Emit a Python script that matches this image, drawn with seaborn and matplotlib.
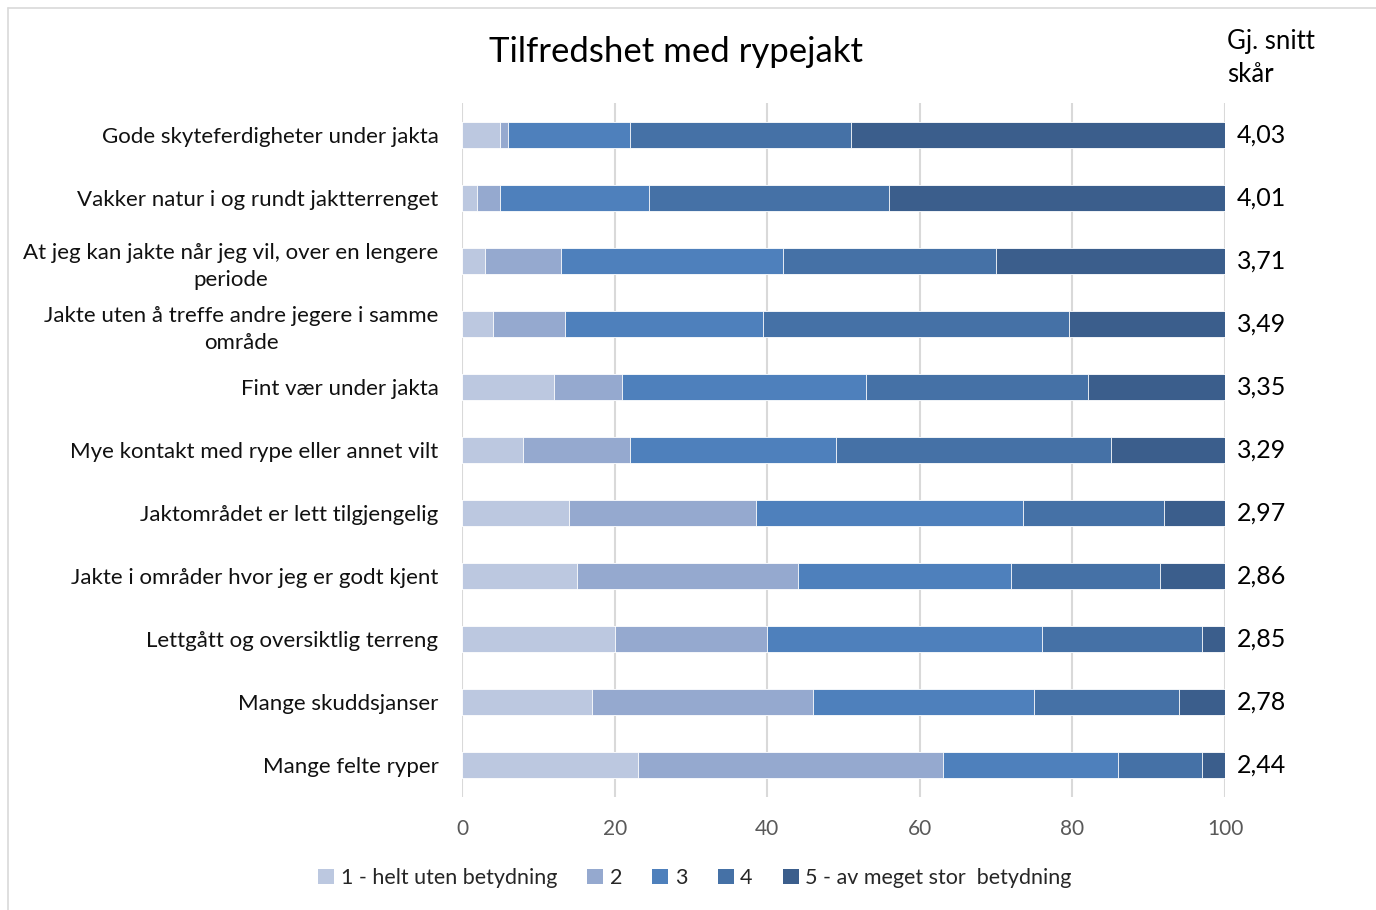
import matplotlib
matplotlib.use("Agg")
import matplotlib.pyplot as plt
import seaborn as sns
import numpy as np
import pandas as pd
from matplotlib.patches import Patch
from matplotlib.lines import Line2D
import matplotlib.transforms as mtransforms

categories = [
    "Gode skyteferdigheter under jakta",
    "Vakker natur i og rundt jaktterrenget",
    "At jeg kan jakte når jeg vil, over en lengere\nperiode",
    "Jakte uten å treffe andre jegere i samme\nområde",
    "Fint vær under jakta",
    "Mye kontakt med rype eller annet vilt",
    "Jaktområdet er lett tilgjengelig",
    "Jakte i områder hvor jeg er godt kjent",
    "Lettgått og oversiktlig terreng",
    "Mange skuddsjanser",
    "Mange felte ryper",
]
level1 = [5, 2, 3, 4, 12, 8, 14, 15, 20, 17, 23]
level2 = [1, 3, 10, 9.5, 9, 14, 24.5, 29, 20, 29, 40]
level3 = [16, 19.5, 29, 26, 32, 27, 35, 28, 36, 29, 23]
level4 = [29, 31.5, 28, 40, 29, 36, 18.5, 19.5, 21, 19, 11]
level5 = [49, 44, 30, 20.5, 18, 15, 8, 8.5, 3, 6, 3]
averages = ["4,03", "4,01", "3,71", "3,49", "3,35", "3,29", "2,97", "2,86", "2,85", "2,78", "2,44"]
series_names = ["1 - helt uten betydning", "2", "3", "4", "5 - av meget stor  betydning"]
colors = ["#BCC8E0", "#95A9CF", "#4E80BC", "#4571A6", "#3B5E8C"]

sns.set_theme(style="white")
plt.rcParams["font.family"] = ["Lato", "DejaVu Sans"]

fig = plt.figure(figsize=(13.76, 9.10), dpi=100)
ax = fig.add_axes([0.3358, 0.1247, 0.5545, 0.7616])

levels = [level1, level2, level3, level4, level5]
cum = np.cumsum(np.array(levels, dtype=float), axis=0)
df = pd.DataFrame({"category": categories})
for i in range(4, -1, -1):
    df["v"] = cum[i]
    sns.barplot(data=df, x="v", y="category", orient="h", color=colors[i],
                width=0.4, ax=ax, edgecolor="white", linewidth=0.6,
                saturation=1, zorder=3)

ax.set_xlim(0, 100)
ax.set_ylim(len(categories) - 0.5, -0.5)
ax.set_xticks([0, 20, 40, 60, 80, 100])
ax.set_xlabel("")
ax.set_ylabel("")
ax.grid(axis="x", color="#D9D9D9", linewidth=1.5, zorder=0)
ax.set_axisbelow(True)
for s in ax.spines.values():
    s.set_visible(False)
ax.tick_params(axis="x", colors="#595959", labelsize=15, length=0, pad=16)
ax.tick_params(axis="y", colors="black", labelsize=16, length=0, pad=17)
for lab in ax.get_yticklabels():
    lab.set_multialignment("center")
    lab.set_linespacing(1.45)
    lab.set_color("#111111")

trans = mtransforms.blended_transform_factory(ax.transAxes, ax.transData)
for i, a in enumerate(averages):
    ax.text(1.048, i, a, transform=trans, ha="center", va="center",
            fontsize=18, color="black")

fig.text(0.491, 1 - 52 / 910, "Tilfredshet med rypejakt", ha="center", va="center",
         fontsize=25, color="black")
fig.text(1227 / 1376, 1 - 58 / 910, "Gj. snitt\nskår", ha="left", va="center",
         fontsize=18.5, color="black", linespacing=1.4)

handles = [Patch(facecolor=c, edgecolor="none") for c in colors]
fig.legend(handles, series_names, loc="center", bbox_to_anchor=(0.505, 1 - 878 / 910),
           ncol=5, frameon=False, fontsize=15.5, handlelength=0.75, handleheight=0.75,
           handletextpad=0.3, columnspacing=1.4)

fig.add_artist(Line2D([8 / 1376, 8 / 1376], [0, 1 - 8 / 910], transform=fig.transFigure,
                      color="#D9D9D9", linewidth=1.2))
fig.add_artist(Line2D([8 / 1376, 1], [1 - 8 / 910, 1 - 8 / 910], transform=fig.transFigure,
                      color="#D9D9D9", linewidth=1.2))

fig.savefig("out.png", dpi=100, facecolor="white")
